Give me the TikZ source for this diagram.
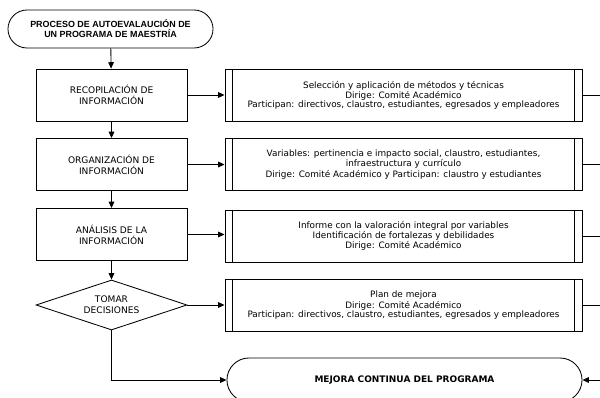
\documentclass[tikz,border=0pt]{standalone}
\usepackage{fontspec}
\setmainfont{DejaVu Sans}
\newfontfamily\titlefont{Liberation Sans}
\usetikzlibrary{shapes.geometric,shapes.misc,arrows.meta}

\tikzset{
    line/.style={draw, line width=0.6pt},
    arrow/.style={line, -{Triangle[length=4.5pt,width=4pt]}},
    stepbox/.style={line, rectangle, minimum width=3.775cm, minimum height=1.3cm,
        align=center, font=\fontsize{6.45}{7.8}\selectfont},
    decision/.style={line, diamond, aspect=3, inner sep=0pt, minimum width=3.775cm,
        minimum height=1.25cm, align=center, font=\fontsize{6.45}{7.8}\selectfont},
    terminal/.style={line, rounded rectangle, align=center, inner sep=0pt},
    detail/.style={line, rectangle, minimum width=8.925cm, minimum height=1.3cm,
        align=center, font=\fontsize{6.3}{6.3}\selectfont,
        path picture={
            \draw ([xshift=0.18cm]path picture bounding box.north west) -- ([xshift=0.18cm]path picture bounding box.south west);
            \draw ([xshift=-0.2cm]path picture bounding box.north east) -- ([xshift=-0.2cm]path picture bounding box.south east);
        }},
}

\begin{document}
\begin{tikzpicture}[x=0.025cm, y=-0.025cm]

    \useasboundingbox (0,0) rectangle (600,398);

    % Process column
    \node[terminal, minimum width=5.125cm, minimum height=0.95cm,
        font=\titlefont\bfseries\fontsize{6.35}{7.2}\selectfont] (inicio) at (110.5,29)
        {PROCESO DE AUTOEVALAUCIÓN DE\\UN PROGRAMA DE MAESTRÍA};
    \node[stepbox] (recop) at (111.5,95) {RECOPILACIÓN DE\\INFORMACIÓN};
    \node[stepbox] (organ) at (111.5,164.5) {ORGANIZACIÓN DE\\INFORMACIÓN};
    \node[stepbox] (anal) at (111.5,234.5) {ANÁLISIS DE LA\\INFORMACIÓN};
    \node[decision] (decid) at (111.5,305) {TOMAR\\DECISIONES};

    % Detail column
    \node[detail] (drecop) at (403.5,95)
        {Selección y aplicación de métodos y técnicas\\Dirige: Comité Académico\\
         Participan: directivos, claustro, estudiantes, egresados y empleadores};
    \node[detail] (dorgan) at (403.5,164.5)
        {Variables: pertinencia e impacto social, claustro, estudiantes,\\infraestructura y currículo\\
         Dirige: Comité Académico y Participan: claustro y estudiantes};
    \node[detail] (danal) at (403.5,236)
        {Informe con la valoración integral por variables\\Identificación de fortalezas y debilidades\\
         Dirige: Comité Académico};
    \node[detail] (ddecid) at (403.5,305)
        {Plan de mejora\\Dirige: Comité Académico\\
         Participan: directivos, claustro, estudiantes, egresados y empleadores};

    \node[terminal, minimum width=8.875cm, minimum height=1.1cm,
        font=\bfseries\fontsize{6.4}{7.2}\selectfont] (mejora) at (404.5,380)
        {MEJORA CONTINUA DEL PROGRAMA};

    \coordinate (rail) at (604,0);

    % Connectors
    \draw[arrow] (inicio) -- (recop);
    \draw[arrow] (recop) -- (organ);
    \draw[arrow] (organ) -- (anal);
    \draw[arrow] (anal) -- (decid);
    \foreach \a/\b in {recop/drecop, organ/dorgan, anal/danal, decid/ddecid}{
        \draw[arrow] (\a.east) -- (\a.east -| \b.west);
        \draw[line] (\b.east) -- (\b.east -| rail);
    }
    \draw[line] (rail |- drecop.east) -- (rail |- mejora.east);
    \draw[arrow] (rail |- mejora.east) -- (mejora.east);
    \draw[arrow] (decid.south) |- (mejora.west);

\end{tikzpicture}
\end{document}
